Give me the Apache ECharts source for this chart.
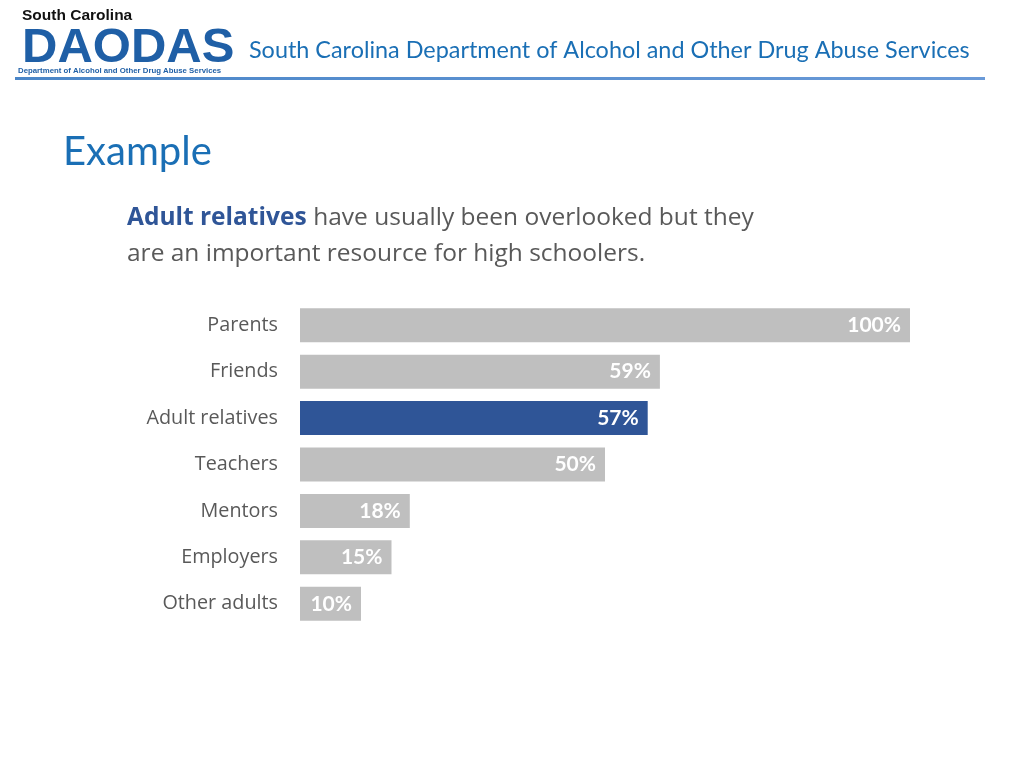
<!DOCTYPE html>
<html>
<head>
<meta charset="utf-8">
<script src="https://cdn.jsdelivr.net/npm/echarts@6/dist/echarts.min.js"></script>
<style>html,body{margin:0;padding:0;background:#fff}#c{width:1024px;height:768px}</style>
</head>
<body>
<div id="c"></div>
<script>
const categories = ['Parents', 'Friends', 'Adult relatives', 'Teachers', 'Mentors', 'Employers', 'Other adults'];
const values = [100, 59, 57, 50, 18, 15, 10];
const highlight = 'Adult relatives';

const chart = echarts.init(document.getElementById('c'));
chart.setOption({
  backgroundColor: '#ffffff',
  animation: false,
  grid: { left: 300, right: 114, top: 302, height: 325, containLabel: false },
  xAxis: { type: 'value', min: 0, max: 100, show: false },
  yAxis: {
    type: 'category', data: categories, inverse: true,
    axisLine: { show: false }, axisTick: { show: false },
    axisLabel: { color: '#595959', fontSize: 19.8, fontFamily: 'Open Sans', margin: 22 }
  },
  series: [{
    type: 'bar', barWidth: 34,
    data: values.map((v, i) => ({
      value: v,
      itemStyle: { color: categories[i] === highlight ? '#2F5597' : '#BFBFBF' }
    })),
    label: {
      show: true, position: 'insideRight', distance: 9,
      formatter: p => p.value + '%',
      color: '#ffffff', fontWeight: 'bold', fontSize: 21, fontFamily: 'Lato'
    }
  }],
  graphic: [
    { type: 'text', left: 22, top: 8, style: { text: 'South Carolina', font: 'bold 15.5px "Liberation Sans"', fill: '#111111' } },
    { type: 'text', left: 22, top: 24, style: { text: 'DAODAS', font: 'bold 49px "Liberation Sans"', fill: '#1F5FA6' } },
    { type: 'text', left: 18, top: 67, style: { text: 'Department of Alcohol and Other Drug Abuse Services', font: 'bold 7.8px "Liberation Sans"', fill: '#1F5FA6' } },
    { type: 'text', left: 249, top: 39, style: { text: 'South Carolina Department of Alcohol and Other Drug Abuse Services', font: '23.4px Lato', fill: '#1A6FB5' } },
    { type: 'rect', shape: { x: 15, y: 77, width: 970, height: 3 }, style: { fill: new echarts.graphic.LinearGradient(0, 0, 1, 0, [{ offset: 0, color: '#4A86C8' }, { offset: 1, color: '#6A9AD8' }]) } },
    { type: 'text', left: 63, top: 132, style: { text: 'Example', font: '40px Lato', fill: '#1A6FB5' } },
    { type: 'text', left: 127, top: 206, style: {
        text: '{b|Adult relatives}  {n|have usually been overlooked but they}',
        rich: { b: { font: 'bold 24.5px "Open Sans"', fill: '#2F5597' }, n: { font: '24.5px "Open Sans"', fill: '#595959' } } } },
    { type: 'text', left: 127, top: 242, style: { text: 'are an important resource for high schoolers.', font: '24.5px "Open Sans"', fill: '#595959' } }
  ]
});
</script>
</body>
</html>
